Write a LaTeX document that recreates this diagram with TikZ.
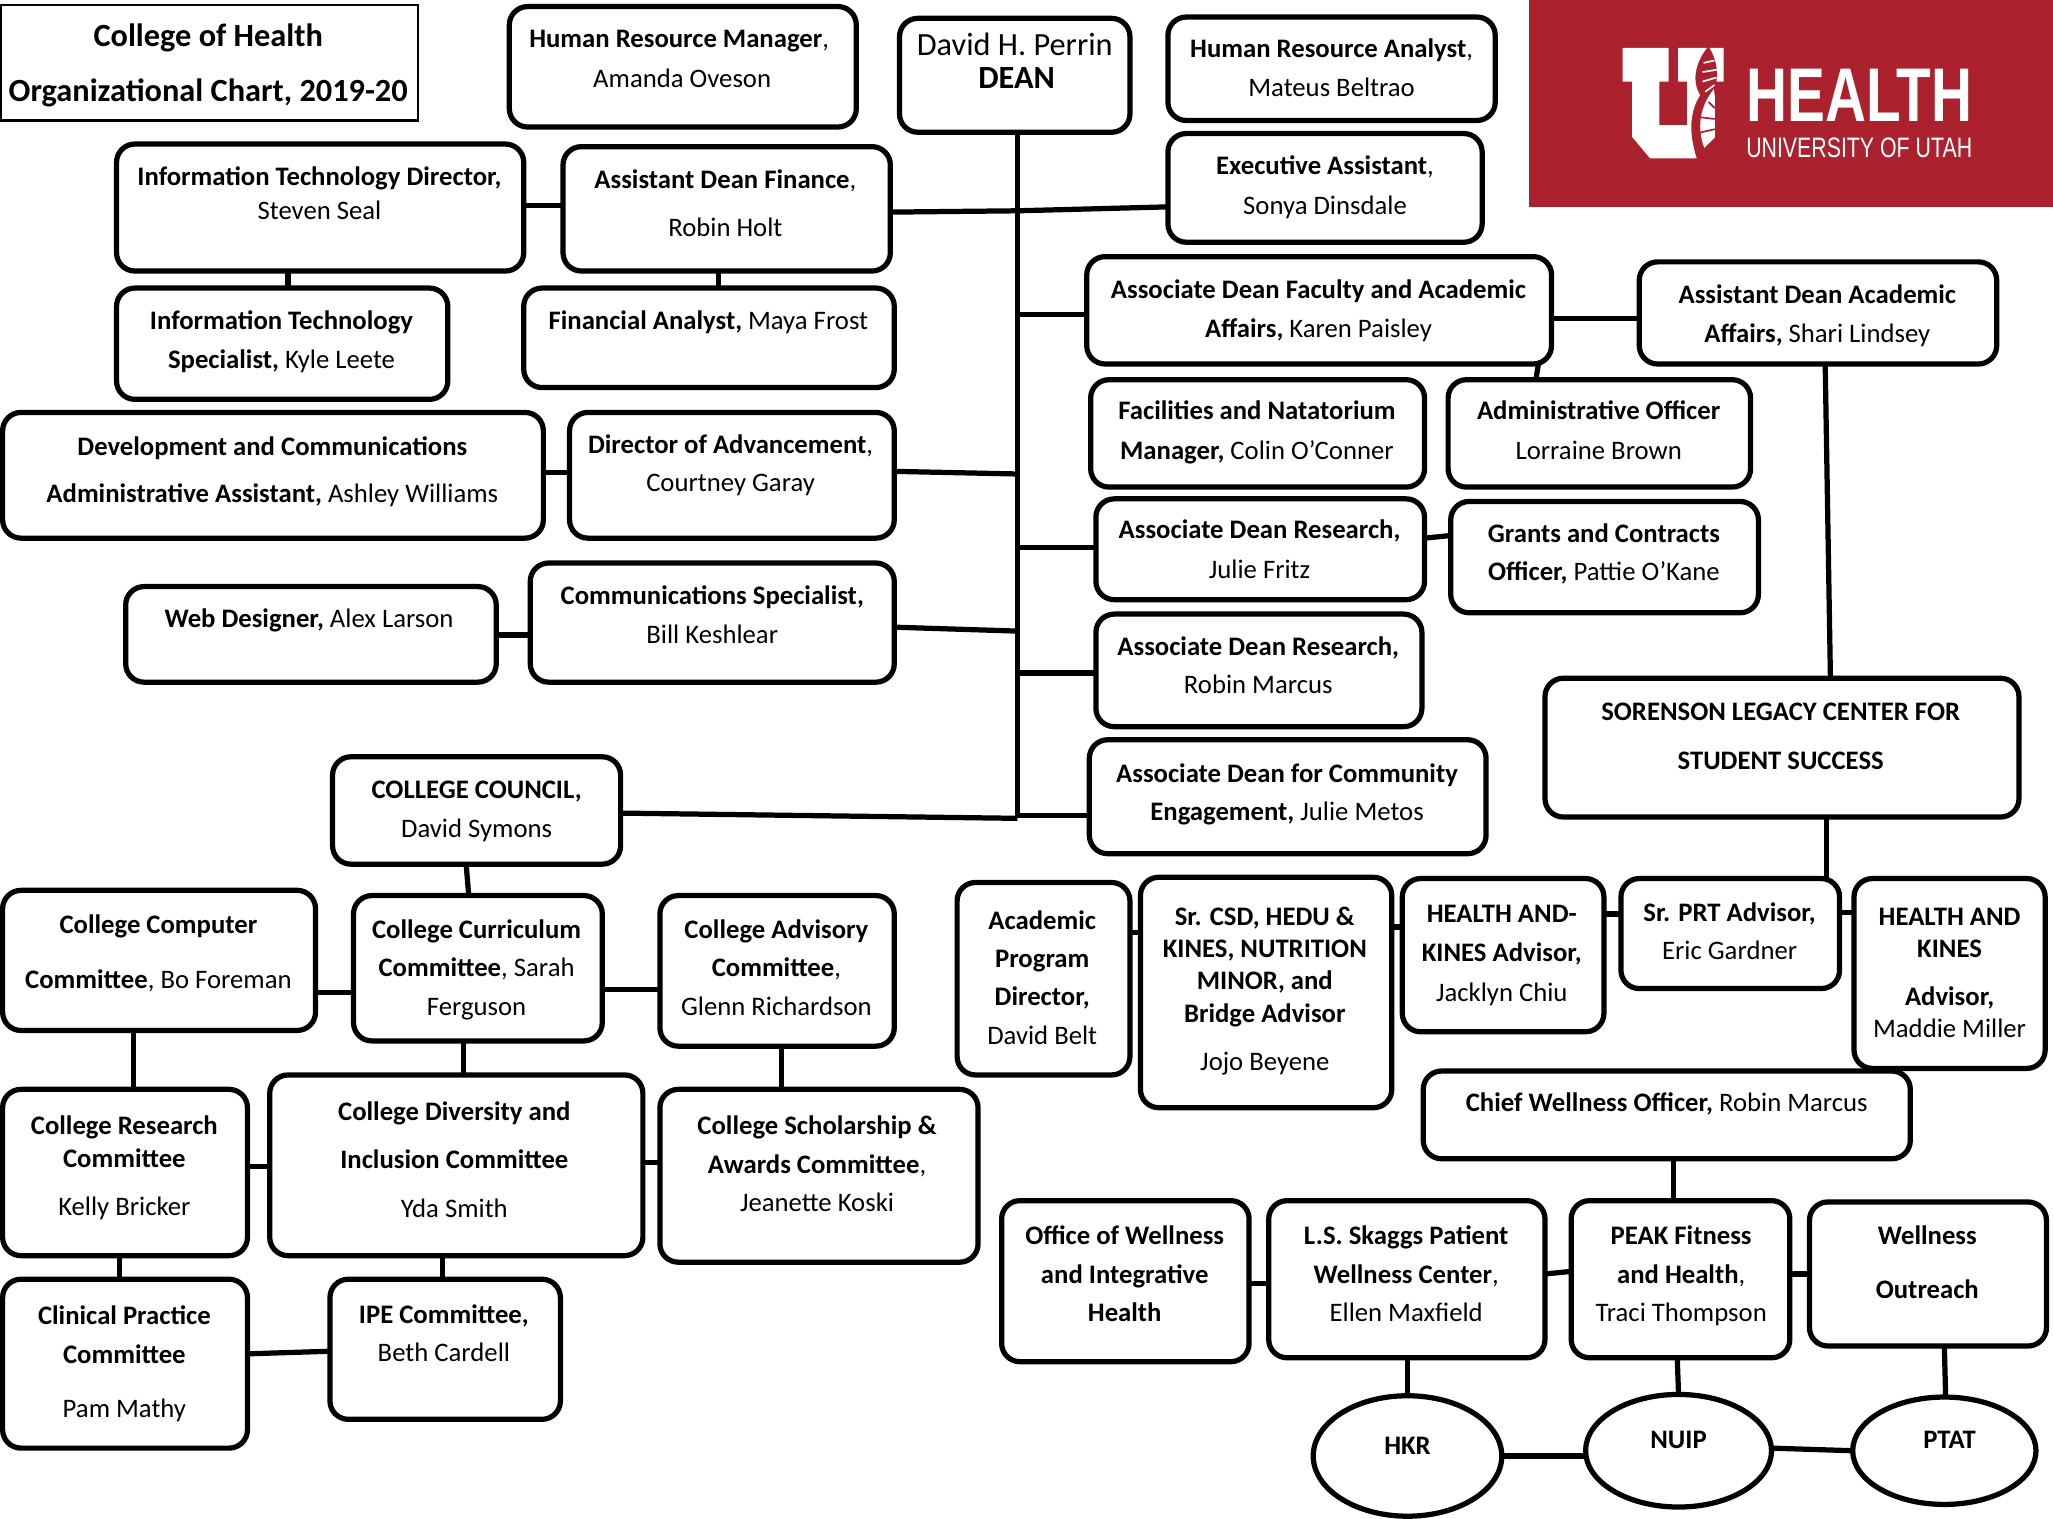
\documentclass[tikz,border=0pt]{standalone}
\usepackage{fontspec}
\setmainfont{Carlito}
\newfontfamily\logofont{Liberation Sans}
\usetikzlibrary{shapes.geometric,calc}
\definecolor{utred}{HTML}{AC212E}
\tikzset{
  bxbase/.style={draw=black,line width=4pt,inner sep=0pt,outer sep=0pt,font=\fontsize{20.4}{24}\selectfont},
  bxs/.style={bxbase,rectangle,rounded corners=14pt},
  elp/.style={bxbase,ellipse},
  cn/.style={draw=black,line width=4pt},
}
\newcommand\tl[1]{\hbox to 0pt{\hss #1\hss}}
\newcommand\hd[1]{\textbf{#1}}
% style, name, x1,y1,x2,y2, text-centre x, first baseline, line gap, lines
\newcommand\bxg[9]{%
  \pgfmathsetmacro\bcx{(#3+#5)/2}\pgfmathsetmacro\bcy{(#4+#6)/2}%
  \pgfmathsetmacro\bw{#5-#3}\pgfmathsetmacro\bh{#6-#4}%
  \pgfmathsetmacro\bdx{#7-\bcx}\pgfmathsetmacro\bdy{\bcy-#8-0.6}%
  \bxh{#1}{#2}{#9}%
}
\newcommand\bxh[3]{\bxi{#1}{#2}{#3}}
\def\curgap{29}
\newcommand\bxi[3]{%
  \node[#1,minimum width=\bw pt,minimum height=\bh pt] (#2) at (\bcx,\bcy)
   {\hbox to 0pt{\kern\bdx pt\raisebox{\bdy pt}[0pt][0pt]{\vtop{\baselineskip=\curgap pt\lineskiplimit=-100pt\lineskip=0pt #3}}\hss}};%
}
\newcommand\gp[1]{\def\curgap{#1}}
\newcommand\bx[9]{\def\curgap{#8}\bxg{bxs}{#1}{#2}{#3}{#4}{#5}{#6}{#7}{#9}}
\newcommand\el[9]{\def\curgap{#8}\bxg{elp}{#1}{#2}{#3}{#4}{#5}{#6}{#7}{#9}}
\newcommand\ch[4]{\draw[cn] (#1.east |- 0,#2) -- (#3.west |- 0,#4);}
\newcommand\cv[4]{\draw[cn] (#1.south -| #2,0) -- (#3.north -| #4,0);}
\begin{document}
\begin{tikzpicture}[x=1pt,y=-1pt]
\useasboundingbox (0,0) rectangle (1568,1160);
% logo
\fill[utred] (1168,0) rectangle (1568,158);
\begin{scope}[shift={(1160.9,0)},x=0.2596pt,y=-0.2596pt]
\fill[white] (302,141)--(437,141)--(437,240)--(410,240)--(410,368)--(492,368)--(492,240)--(465,240)--(465,141)--(550,141)
  .. controls (515,185) and (505,240) .. (530,280)
  .. controls (500,325) and (495,390) .. (520,466)
  --(383,466)--(330,403)--(330,240)--(302,240)--cycle;
\fill[white] (558,141)--(599,141)--(599,240)--(578,240) .. controls (584,205) and (575,170) .. (558,141)--cycle;
\fill[white] (570,262)--(573,280)--(573,405)--(542,435) .. controls (522,380) and (525,320) .. (570,262)--cycle;
\draw[white,line width=1.3pt] (540,185)--(572,178) (537,212)--(580,205) (537,240)--(578,228) (545,270)--(572,250);
\draw[utred,line width=1.3pt] (555,300)--(573,318) (530,345)--(573,350) (530,390)--(573,380);
\end{scope}
\node[anchor=south west,inner sep=0pt,text=white] (health) at (1333.5,92.7) {\logofont\resizebox{172.5pt}{40pt}{\bfseries HEALTH}};
\node[anchor=south west,inner sep=0pt,text=white] (uofu) at (1333.5,120.6) {\logofont\resizebox{172.5pt}{15pt}{UNIVERSITY OF UTAH}};
% title
\node[draw=black,line width=1.6pt,rectangle,minimum width=318pt,minimum height=88pt,inner sep=0pt] (title) at (160,48)
  {\hbox to 0pt{\kern-1pt\raisebox{12.4pt}[0pt][0pt]{\vtop{\fontsize{24.7}{28}\selectfont\baselineskip=42pt\lineskiplimit=-100pt\tl{\hd{College of Health}}\tl{\hd{Organizational Chart, 2019-20}}}}\hss}};
% top row
\bx{hrm}{389}{5}{654}{97}{521}{36}{30}{\tl{\hd{Human Resource Manager}, }\tl{Amanda Oveson}}
\def\curgap{25}\bxg{bxs,font=\fontsize{24.7}{28}\selectfont}{dean}{687}{14}{863}{101}{775}{42}{\tl{David H. Perrin}\tl{\kern3pt\hd{DEAN}}}
\bx{hra}{892}{13}{1142}{92}{1017}{43}{30}{\tl{\hd{Human Resource Analyst},}\tl{Mateus Beltrao}}
\bx{itd}{89}{110}{400}{207}{244}{141}{26}{\tl{\hd{Information Technology Director,}}\tl{Steven Seal}}
\bx{adf}{430}{112}{680}{207}{554}{143}{37}{\tl{\hd{Assistant Dean Finance},}\tl{Robin Holt}}
\bx{exa}{892}{102}{1132}{185}{1012}{133}{30}{\tl{\hd{Executive Assistant},}\tl{Sonya Dinsdale}}
\bx{adfa}{830}{196}{1185}{278}{1007}{227}{30}{\tl{\hd{Associate Dean Faculty and Academic}}\tl{\hd{Affairs,} Karen Paisley}}
\bx{adaa}{1252}{200}{1525}{278}{1388}{231}{30}{\tl{\hd{Assistant Dean Academic}}\tl{\hd{Affairs,} Shari Lindsey}}
\bx{its}{89}{220}{342}{305}{215}{251}{30}{\tl{\hd{Information Technology}}\tl{\hd{Specialist,} Kyle Leete}}
\bx{fin}{400}{220}{683}{296}{541}{251}{30}{\tl{\hd{Financial Analyst,} Maya Frost}}
\bx{fac}{833}{290}{1088}{372}{960}{320}{30}{\tl{\hd{Facilities and Natatorium}}\tl{\hd{Manager,} Colin O’Conner}}
\bx{ado}{1106}{290}{1337}{372}{1221}{320}{30}{\tl{\hd{Administrative Officer}}\tl{Lorraine Brown}}
\bx{dev}{2}{315}{415}{411}{208}{347}{36}{\tl{\hd{Development and Communications}}\tl{\hd{Administrative Assistant,} Ashley Williams}}
\bx{dir}{435}{315}{683}{411}{558}{346}{29}{\tl{\hd{Director of Advancement},}\tl{Courtney Garay}}
\bx{adr}{837}{381}{1088}{458}{962}{411}{30}{\tl{\hd{Associate Dean Research,}}\tl{Julie Fritz}}
\bx{gra}{1108}{383}{1343}{468}{1225}{414}{29}{\tl{\hd{Grants and Contracts}}\tl{\hd{Officer,} Pattie O’Kane}}
\bx{web}{96}{448}{379}{521}{236}{479}{30}{\tl{\hd{Web Designer,} Alex Larson}}
\bx{com}{405}{430}{683}{521}{544}{461}{30}{\tl{\hd{Communications Specialist,}}\tl{Bill Keshlear}}
\bx{adm}{837}{469}{1086}{555}{961}{500}{29}{\tl{\hd{Associate Dean Research,}}\tl{Robin Marcus}}
\bx{sor}{1180}{518}{1542}{624}{1360}{550}{37}{\tl{\hd{SORENSON LEGACY CENTER FOR}}\tl{\hd{STUDENT SUCCESS}}}
\bx{adc}{832}{565}{1135}{652}{983}{597}{29}{\tl{\hd{Associate Dean for Community}}\tl{\hd{Engagement,} Julie Metos}}
\bx{cou}{254}{578}{474}{660}{364}{609}{30}{\tl{\hd{COLLEGE COUNCIL,}}\tl{David Symons}}
\bx{cmp}{2}{680}{241}{787}{121}{712}{42}{\tl{\hd{College Computer}}\tl{\hd{Committee}, Bo Foreman}}
\bx{cur}{270}{684}{460}{795}{364}{716}{29.5}{\tl{\hd{College Curriculum}}\tl{\hd{Committee}, Sarah}\tl{Ferguson}}
\bx{adv}{504}{684}{683}{799}{593}{716}{29.5}{\tl{\hd{College Advisory}}\tl{\hd{Committee},}\tl{Glenn Richardson}}
\bx{apd}{731}{674}{863}{821}{796}{709}{29.3}{\tl{\hd{Academic}}\tl{\hd{Program}}\tl{\hd{Director,}}\tl{David Belt}}
\bx{csd}{871}{670}{1063}{846}{966}{706}{24.7}{\tl{\hd{Sr. CSD, HEDU \&}}\tl{\hd{KINES, NUTRITION}}\tl{\hd{MINOR, and}}\tl{\hd{Bridge Advisor}}\vskip12.3pt\tl{Jojo Beyene}}
\bx{hkj}{1071}{671}{1225}{788}{1147}{704}{30}{\tl{\hd{HEALTH AND-}}\tl{\hd{KINES Advisor,}}\tl{Jacklyn Chiu}}
\bx{prt}{1238}{671}{1405}{755}{1321}{703}{29}{\tl{\hd{Sr. PRT Advisor,}}\tl{Eric Gardner}}
\bx{hkm}{1416}{671}{1562}{816}{1489}{706}{25}{\tl{\hd{HEALTH AND}}\tl{\hd{KINES}}\vskip11pt\tl{\hd{Advisor,}}\tl{Maddie Miller}}
\bx{cwo}{1087}{818}{1459}{885}{1273}{848}{30}{\tl{\hd{Chief Wellness Officer,} Robin Marcus}}
\bx{res}{2}{832}{189}{959}{95}{866}{25}{\tl{\hd{College Research}}\tl{\hd{Committee}}\vskip12pt\tl{Kelly Bricker}}
\bx{div}{206}{821}{491}{959}{347}{855}{37}{\tl{\hd{College Diversity and}}\tl{\hd{Inclusion Committee}}\tl{Yda Smith}}
\bx{sch}{504}{832}{747}{964}{624}{866}{29.5}{\tl{\hd{College Scholarship \&}}\tl{\hd{Awards Committee},}\tl{Jeanette Koski}}
\bx{cli}{2}{977}{189}{1106}{95}{1011}{30}{\tl{\hd{Clinical Practice}}\tl{\hd{Committee}}\vskip11pt\tl{Pam Mathy}}
\bx{ipe}{252}{977}{428}{1084}{339}{1010}{29}{\tl{\hd{IPE Committee,}}\tl{Beth Cardell}}
\bx{owh}{765}{917}{954}{1040}{859}{950}{29.5}{\tl{\hd{Office of Wellness}}\tl{\hd{and Integrative}}\tl{\hd{Health}}}
\bx{ska}{969}{917}{1180}{1037}{1074}{950}{29.5}{\tl{\hd{L.S. Skaggs Patient}}\tl{\hd{Wellness Center},}\tl{Ellen Maxfield}}
\bx{pea}{1200}{917}{1367}{1037}{1284}{950}{29.5}{\tl{\hd{PEAK Fitness}}\tl{\hd{and Health},}\tl{Traci Thompson}}
\bx{out}{1382}{918}{1563}{1028}{1472}{950}{41}{\tl{\hd{Wellness}}\tl{\hd{Outreach}}}
\el{hkr}{1003}{1066}{1147}{1158}{1075}{1110}{20}{\tl{\hd{HKR}}}
\el{nui}{1211}{1065}{1353}{1151}{1282}{1106}{20}{\tl{\hd{NUIP}}}
\el{pta}{1415}{1067}{1555}{1149}{1489}{1106}{20}{\tl{\hd{PTAT}}}
% trunk
\coordinate (trunk) at (777,624);
\draw[cn] (dean.south -| trunk) -- (trunk);
% connectors
\ch{adf}{162}{trunk}{161}
\draw[cn] (trunk |- 0,161) -- (exa.west |- 0,158);
\ch{itd}{157}{adf}{157}
\cv{itd}{220}{its}{220}
\cv{adf}{549}{fin}{549}
\draw[cn] (trunk |- 0,240) -- (adfa.west |- 0,240);
\ch{adfa}{243}{adaa}{243}
\cv{adfa}{1175}{ado}{1173}
\ch{dev}{361}{dir}{361}
\ch{dir}{360}{trunk}{362}
\draw[cn] (trunk |- 0,418) -- (adr.west |- 0,418);
\ch{adr}{411}{gra}{409}
\ch{web}{485}{com}{485}
\ch{com}{479}{trunk}{482}
\draw[cn] (trunk |- 0,514) -- (adm.west |- 0,514);
\ch{cou}{621}{trunk}{625}
\draw[cn] (trunk |- 0,623) -- (adc.west |- 0,623);
\cv{cou}{356}{cur}{358}
\cv{adaa}{1394}{sor}{1398}
\cv{sor}{1395}{prt}{1395}
\ch{cmp}{758}{cur}{758}
\ch{cur}{756}{adv}{756}
\cv{cmp}{102}{res}{102}
\cv{cur}{354}{div}{354}
\cv{adv}{597}{sch}{597}
\ch{res}{891}{div}{891}
\ch{div}{888}{sch}{888}
\cv{res}{91}{cli}{91}
\cv{div}{338}{ipe}{338}
\ch{cli}{1034}{ipe}{1032}
\ch{apd}{712}{csd}{712}
\ch{csd}{708}{hkj}{708}
\ch{hkj}{698}{prt}{698}
\ch{prt}{697}{hkm}{697}
\cv{cwo}{1278}{pea}{1278}
\ch{owh}{980}{ska}{980}
\ch{ska}{973}{pea}{971}
\ch{pea}{973}{out}{973}
\cv{ska}{1075}{hkr}{1075}
\cv{pea}{1281}{nui}{1282}
\cv{out}{1485}{pta}{1486}
\ch{hkr}{1112}{nui}{1112}
\ch{nui}{1106}{pta}{1108}
\end{tikzpicture}
\end{document}
